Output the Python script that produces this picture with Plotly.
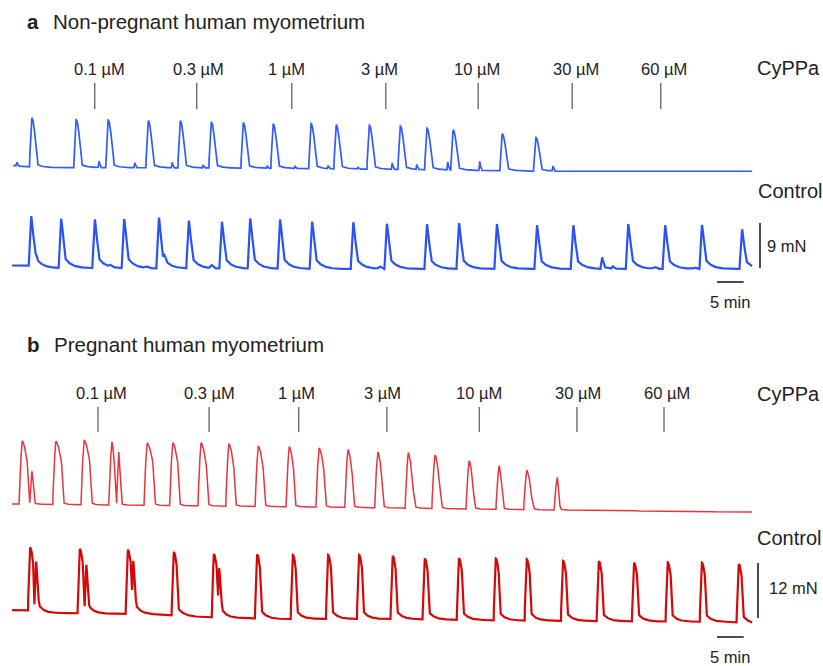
import numpy as np
import plotly.graph_objects as go

# ---------------- data ----------------
T_END = 138.6  # minutes shown in each recording

conc_labels = ["0.1 µM", "0.3 µM", "1 µM", "3 µM", "10 µM", "30 µM", "60 µM"]
a_add_t = [15.5, 34.6, 52.4, 70.0, 87.3, 104.9, 121.5]
b_add_t = [16.1, 36.9, 53.7, 70.2, 87.5, 105.8, 122.1]

# Panel a, CyPPa trace (contractions: time of peak [min], amplitude [mN])
a_cyp_t = [3.7, 12.0, 18.0, 25.5, 31.5, 37.3, 43.3, 48.9, 56.0, 60.7, 66.9, 72.7, 77.7, 82.6, 91.8, 98.1]
a_cyp_amp = [9.8, 9.6, 9.5, 9.4, 9.4, 9.2, 9.1, 8.9, 9.0, 8.8, 8.8, 8.7, 8.3, 8.0, 7.4, 6.7]
a_cyp_blip_t = [0.9, 16.3, 23.0, 30.0, 35.8, 47.8, 53.0, 59.2, 64.8, 71.2, 75.8, 81.6, 87.6, 101.3]
a_cyp_blip_amp = [0.8, 1.4, 1.0, 1.1, 0.6, 0.5, 0.5, 0.6, 0.4, 1.3, 1.0, 1.6, 1.8, 1.1]
a_cyp_base_t = [0, 2.5, 5, 41, 72.7, 100, 138.6]
a_cyp_base = [0.4, 0.2, 0.0, -0.1, -0.4, -0.75, -0.75]

# Panel a, Control trace
a_ctl_t = [3.6, 9.2, 15.5, 21.0, 27.5, 33.1, 39.3, 44.6, 50.2, 56.2, 63.9, 70.2, 77.7, 83.7,
           90.8, 98.3, 105.1, 115.4, 122.3, 129.2, 136.7]
a_ctl_amp = [10.0, 9.8, 9.8, 9.8, 10.2, 9.6, 9.4, 10.0, 9.8, 9.4, 9.4, 9.0, 9.0, 9.2,
             9.0, 8.8, 8.8, 9.0, 8.8, 8.8, 8.0]
a_ctl_minor_t = [4.3, 28.5, 110.5, 112.5]
a_ctl_minor_amp = [1.3, 1.3, 2.4, 0.5]
a_ctl_hump_t = [18.4, 25.2, 37.4, 68.9, 120.4, 127.9]
a_ctl_hump_amp = [0.4, 0.3, 0.6, 0.5, 0.4, 0.3]
a_ctl_base_t = [0, 3.0, 5.0, 60, 138.6]
a_ctl_base = [0.5, 0.5, 0.0, -0.2, -0.2]

# Panel b, CyPPa trace
b_cyp_t = [1.9, 8.2, 13.5, 18.7, 25.3, 30.1, 35.4, 40.6, 46.1, 51.9, 57.5, 62.9, 68.5, 74.2,
           79.2, 85.6, 91.2, 96.4, 102.1]
b_cyp_amp = [13.8, 13.8, 14.1, 13.8, 13.6, 13.7, 13.8, 13.6, 13.2, 13.1, 12.9, 12.6, 12.2, 12.1,
             11.7, 10.5, 9.5, 8.6, 7.2]
b_cyp_decl = [0.94, 1.1, 1.07, 0.5, 1.1, 0.94, 1.0, 0.94, 0.94, 0.8, 0.9, 0.8, 0.75, 0.94,
              0.94, 0.75, 0.55, 0.94, 0.3]
b_cyp_decl_end = [0.67, 0.65, 0.66, 0.6, 0.68, 0.68, 0.63, 0.64, 0.63, 0.67, 0.63, 0.6, 0.56, 0.33,
                  0.4, 0.46, 0.45, 0.3, 0.3]
b_cyp_sec_t = [3.75, 20.0]
b_cyp_sec_amp = [7.2, 11.4]
b_cyp_base_t = [0, 60, 100, 138.6]
b_cyp_base = [0.0, -0.7, -1.3, -1.75]

# Panel b, Control trace
b_ctl_t = [3.4, 12.7, 21.7, 30.3, 37.8, 45.9, 52.6, 59.2, 65.0, 71.3, 77.3, 83.7, 90.6, 96.4,
           103.2, 109.9, 116.5, 122.8, 129.2, 136.1]
b_ctl_amp = [13.8, 14.1, 14.0, 13.9, 13.8, 14.0, 14.0, 14.0, 14.0, 13.8, 13.3, 13.5, 13.5, 13.4,
             13.1, 13.1, 12.8, 12.9, 12.9, 12.8]
b_ctl_sec_t = [4.5, 13.9, 22.7, 38.8]
b_ctl_sec_amp = [10.1, 9.7, 10.5, 9.4]
b_ctl_base_t = [0, 2.8, 5, 25, 35, 50, 72, 91, 110, 135, 138.6]
b_ctl_base = [0.2, 0.2, -0.4, -0.65, -1.3, -1.75, -1.75, -2.05, -2.2, -2.4, -2.8]


# ---------------- waveform construction ----------------
def pulse(t, tp, A, r, d, k, f, q, tau, pr=1.0, pd=1.0):
    y = np.zeros_like(t)
    t0 = tp - r
    m = (t >= t0) & (t < tp)
    y[m] = A * ((t[m] - t0) / r) ** pr
    t1 = tp + d
    if d > 0:
        m = (t >= tp) & (t < t1)
        y[m] = A * (1 - (1 - k) * ((t[m] - tp) / d) ** pd)
    t2 = t1 + f
    m = (t >= t1) & (t < t2)
    y[m] = A * (k - (k - q) * (t[m] - t1) / f)
    m = t >= t2
    y[m] = A * q * np.exp(-(t[m] - t2) / tau)
    return y


t = np.arange(0, T_END + 1e-9, 0.04)

# a CyPPa
ya1 = np.interp(t, a_cyp_base_t, a_cyp_base)
for tp, A in zip(a_cyp_t, a_cyp_amp):
    ya1 += pulse(t, tp, A, 0.42, 0.6, 0.64, 0.45, 0.06, 1.0, pr=0.7, pd=2.0)
for tp, A in zip(a_cyp_blip_t, a_cyp_blip_amp):
    ya1 += pulse(t, tp, A, 0.15, 0.1, 0.6, 0.2, 0.0, 0.5)
ta1 = t[t >= 0.19]
ya1 = ya1[t >= 0.19]

# a Control
ya2 = np.interp(t, a_ctl_base_t, a_ctl_base)
for tp, A in zip(a_ctl_t, a_ctl_amp):
    ya2 += pulse(t, tp, A, 0.45, 0.35, 0.67, 0.4, 0.2, 1.2, pr=0.8, pd=1.4)
for tp, A in zip(a_ctl_minor_t, a_ctl_minor_amp):
    ya2 += pulse(t, tp, A, 0.3, 0.15, 0.7, 0.3, 0.15, 0.8)
for tp, A in zip(a_ctl_hump_t, a_ctl_hump_amp):
    ya2 += pulse(t, tp, A, 0.5, 0.0, 1.0, 0.6, 0.0, 0.5)

# b CyPPa
yb1 = np.interp(t, b_cyp_base_t, b_cyp_base)
for tp, A, d, k in zip(b_cyp_t, b_cyp_amp, b_cyp_decl, b_cyp_decl_end):
    yb1 += pulse(t, tp, A, 0.55, d, k, 0.35, 0.03, 0.5, pr=0.6, pd=1.7)
for tp, A in zip(b_cyp_sec_t, b_cyp_sec_amp):
    yb1 += pulse(t, tp, A, 0.4, 0.2, 0.6, 0.3, 0.02, 0.5, pr=0.7)

# b Control
yb2 = np.interp(t, b_ctl_base_t, b_ctl_base)
for tp, A in zip(b_ctl_t, b_ctl_amp):
    yb2 += pulse(t, tp, A, 0.4, 0.55, 0.78, 0.25, 0.12, 1.0, pr=0.7, pd=1.8)
for tp, A in zip(b_ctl_sec_t, b_ctl_sec_amp):
    yb2 += pulse(t, tp, A, 0.3, 0.25, 0.7, 0.3, 0.1, 0.8)

# ---------------- figure ----------------
W, H = 823, 666
X0, PXMIN = 12.0, 5.34           # trace start pixel, pixels per minute
TXT = "#222222"
FONT = "Liberation Sans, Arial, Helvetica, sans-serif"
LAB_SHIFT_A = [4.7, 1.8, -5, -6.5, -1.3, 3.5, 3.5]   # label offsets (px) from marker lines
LAB_SHIFT_B = [4, 0.5, -2, -4.5, -0.5, 1, 2.7]

axes = {  # baseline pixel row, pixels per mN
    "y": (167.5, 5.0), "y2": (268.0, 5.0), "y3": (504.0, 4.58), "y4": (611.0, 4.58)}


def yrange(key):
    b, s = axes[key]
    return [(b - H) / s, b / s]


def yval(key, px):
    b, s = axes[key]
    return (b - px) / s


fig = go.Figure()
fig.add_trace(go.Scatter(x=ta1, y=ya1, mode="lines", yaxis="y",
                         line=dict(color="#2e5cff", width=1.7), hoverinfo="skip"))
fig.add_trace(go.Scatter(x=t, y=ya2, mode="lines", yaxis="y2",
                         line=dict(color="#2952f7", width=2.2), hoverinfo="skip"))
fig.add_trace(go.Scatter(x=t, y=yb1, mode="lines", yaxis="y3",
                         line=dict(color="#e8343c", width=1.5), hoverinfo="skip"))
fig.add_trace(go.Scatter(x=t, y=yb2, mode="lines", yaxis="y4",
                         line=dict(color="#d40808", width=2.2), hoverinfo="skip"))

shapes = []
ann = []

# drug addition markers
for key, adds, shifts, y_lo, y_hi, y_lab in [("y", a_add_t, LAB_SHIFT_A, 109, 83, 68.5),
                                             ("y3", b_add_t, LAB_SHIFT_B, 432, 407, 393)]:
    for tt, lab, sh in zip(adds, conc_labels, shifts):
        shapes.append(dict(type="line", xref="x", yref=key, x0=tt, x1=tt,
                           y0=yval(key, y_lo), y1=yval(key, y_hi),
                           line=dict(color="#555555", width=1.2)))
        ann.append(dict(text=lab, xref="x", yref=key, x=tt, y=yval(key, y_lab), xshift=sh,
                        xanchor="center", yanchor="middle", showarrow=False,
                        font=dict(size=16.5, color=TXT, family=FONT)))


def tmin(px):
    return (px - X0) / PXMIN


# scale bars
for key, xpx, ytop, ybot, hy, lab_mn, lab_y, lab_x in [
        ("y2", 760, 223, 268, 282, "9 mN", 246, 765),
        ("y4", 758, 563, 618, 637, "12 mN", 588, 767)]:
    shapes.append(dict(type="line", xref="x", yref=key, x0=tmin(xpx), x1=tmin(xpx),
                       y0=yval(key, ybot), y1=yval(key, ytop),
                       line=dict(color="#111111", width=1.5)))
    shapes.append(dict(type="line", xref="x", yref=key, x0=tmin(717), x1=tmin(717) + 5,
                       y0=yval(key, hy), y1=yval(key, hy),
                       line=dict(color="#111111", width=1.5)))
    ann.append(dict(text=lab_mn, xref="x", yref=key, x=tmin(lab_x), y=yval(key, lab_y),
                    xanchor="left", yanchor="middle", showarrow=False,
                    font=dict(size=16.5, color=TXT, family=FONT)))
    ann.append(dict(text="5 min", xref="x", yref=key, x=tmin(717) + 2.5, y=yval(key, hy + 20),
                    xanchor="center", yanchor="middle", showarrow=False,
                    font=dict(size=16.5, color=TXT, family=FONT)))


def paper_ann(text, xpx, ypx, size, anchor="left"):
    return dict(text=text, xref="paper", yref="paper", x=xpx / W, y=1 - ypx / H,
                xanchor=anchor, yanchor="middle", showarrow=False,
                font=dict(size=size, color=TXT, family=FONT))


ann += [
    paper_ann("<b>a</b>", 25, 21.5, 20.5),
    paper_ann("Non-pregnant human myometrium", 51, 21.5, 20.5),
    paper_ann("<b>b</b>", 25, 344, 20.5),
    paper_ann("Pregnant human myometrium", 52, 344, 20.5),
    paper_ann("CyPPa", 755, 68.5, 20),
    paper_ann("CyPPa", 755, 393.5, 20),
    paper_ann("Control", 756, 191, 20),
    paper_ann("Control", 755, 538, 20),
]

yax = dict(visible=False, domain=[0, 1], fixedrange=True)
fig.update_layout(
    width=W, height=H, margin=dict(l=0, r=0, t=0, b=0),
    paper_bgcolor="white", plot_bgcolor="white", showlegend=False,
    xaxis=dict(visible=False, range=[(0 - X0) / PXMIN, (W - X0) / PXMIN], fixedrange=True),
    yaxis=dict(yax, range=yrange("y")),
    yaxis2=dict(yax, range=yrange("y2"), overlaying="y"),
    yaxis3=dict(yax, range=yrange("y3"), overlaying="y"),
    yaxis4=dict(yax, range=yrange("y4"), overlaying="y"),
    shapes=shapes, annotations=ann,
)

fig.write_html("out.html", config={"displayModeBar": False},
               post_script="document.body.style.margin='0px';document.body.style.overflow='hidden';")
